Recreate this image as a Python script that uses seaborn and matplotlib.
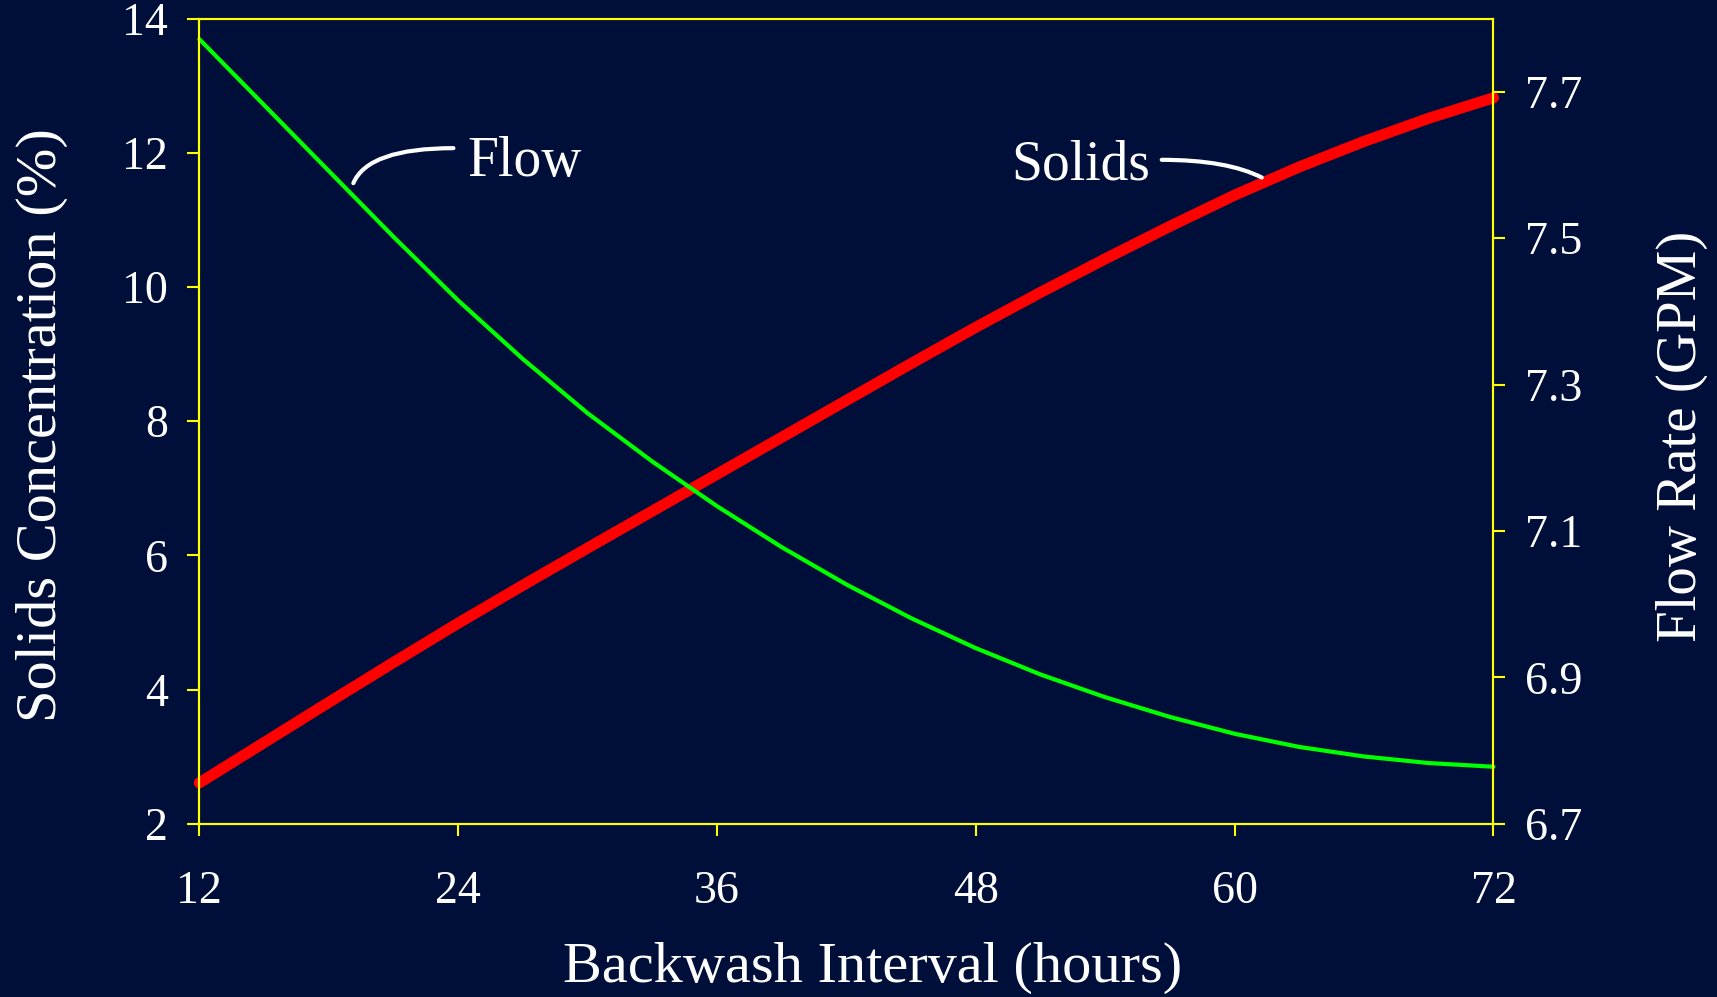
import matplotlib
matplotlib.use('Agg')
import matplotlib.pyplot as plt
import seaborn as sns

# backwash interval (hours)
hours = [12, 15, 18, 21, 24, 27, 30, 33, 36, 39, 42, 45, 48, 51, 54, 57, 60, 63, 66, 69, 72]
# solids concentration (%), left axis
solids = [2.61, 3.21, 3.81, 4.405, 4.99, 5.555, 6.11, 6.66, 7.21, 7.76, 8.31, 8.86, 9.40,
          9.92, 10.42, 10.905, 11.37, 11.79, 12.17, 12.515, 12.82]
# flow rate (GPM), right axis
flow = [7.772, 7.682, 7.592, 7.502, 7.415, 7.335, 7.261, 7.195, 7.134, 7.078, 7.027,
        6.981, 6.940, 6.904, 6.873, 6.846, 6.823, 6.805, 6.792, 6.783, 6.778]

x_ticks = [12, 24, 36, 48, 60, 72]
left_ticks = [2, 4, 6, 8, 10, 12, 14]
right_ticks = [6.7, 6.9, 7.1, 7.3, 7.5, 7.7]

bg = '#000F3A'
yellow = '#FFFF00'

sns.set_style('ticks', rc={'axes.facecolor': bg, 'figure.facecolor': bg,
                           'axes.edgecolor': yellow, 'xtick.color': yellow,
                           'ytick.color': yellow, 'axes.grid': False})
plt.rcParams['font.family'] = ['Liberation Serif', 'DejaVu Serif']

fig, ax = plt.subplots(figsize=(17.17, 9.97), dpi=100)
fig.subplots_adjust(left=0.1161, right=0.8698, top=0.9813, bottom=0.1737)
ax2 = ax.twinx()

sns.lineplot(x=hours, y=solids, ax=ax, color='#FF0000', linewidth=8,
             solid_capstyle='round', solid_joinstyle='round', clip_on=False)
sns.lineplot(x=hours, y=flow, ax=ax2, color='#00FF00', linewidth=3,
             solid_capstyle='round', solid_joinstyle='round', clip_on=False)

ax.set_xlim(12, 72)
ax.set_ylim(2, 14)
ax2.set_ylim(6.7, 7.8)
ax.set_xticks(x_ticks)
ax.set_yticks(left_ticks)
ax2.set_yticks(right_ticks)
ax2.set_yticklabels([f'{v:.1f}' for v in right_ticks])

for a in (ax, ax2):
    for s in a.spines.values():
        s.set_color(yellow)
        s.set_linewidth(1.5)
    a.tick_params(length=8.5, width=1.5, labelsize=33, labelcolor='white', pad=14)
ax.tick_params(axis='x', pad=25)

ax.set_xlabel('Backwash Interval (hours)', fontsize=42, color='white')
ax.set_ylabel('Solids Concentration (%)', fontsize=42, color='white')
ax2.set_ylabel('Flow Rate (GPM)', fontsize=41, color='white')
ax.xaxis.set_label_coords(0.5206, -0.147)
ax.yaxis.set_label_coords(-0.1015, 0.4948)
ax2.yaxis.set_label_coords(1.1257, 0.4817)

# curve labels with connectors
ax.text(24.44, 11.657, 'Flow', fontsize=40, color='white', ha='left', va='baseline')
ax.text(56.07, 11.598, 'Solids', fontsize=40, color='white', ha='right', va='baseline')
ax.annotate('', xy=(19.14, 11.548), xytext=(23.78, 12.07),
            arrowprops=dict(arrowstyle='-', color='white', lw=3, capstyle='round',
                            shrinkA=0, shrinkB=0,
                            connectionstyle='angle3,angleA=0,angleB=67'))
ax.annotate('', xy=(61.26, 11.632), xytext=(56.62, 11.896),
            arrowprops=dict(arrowstyle='-', color='white', lw=3, capstyle='round',
                            shrinkA=0, shrinkB=0,
                            connectionstyle='angle3,angleA=0,angleB=-27'))

plt.savefig('out.png', dpi=100, facecolor=bg)
